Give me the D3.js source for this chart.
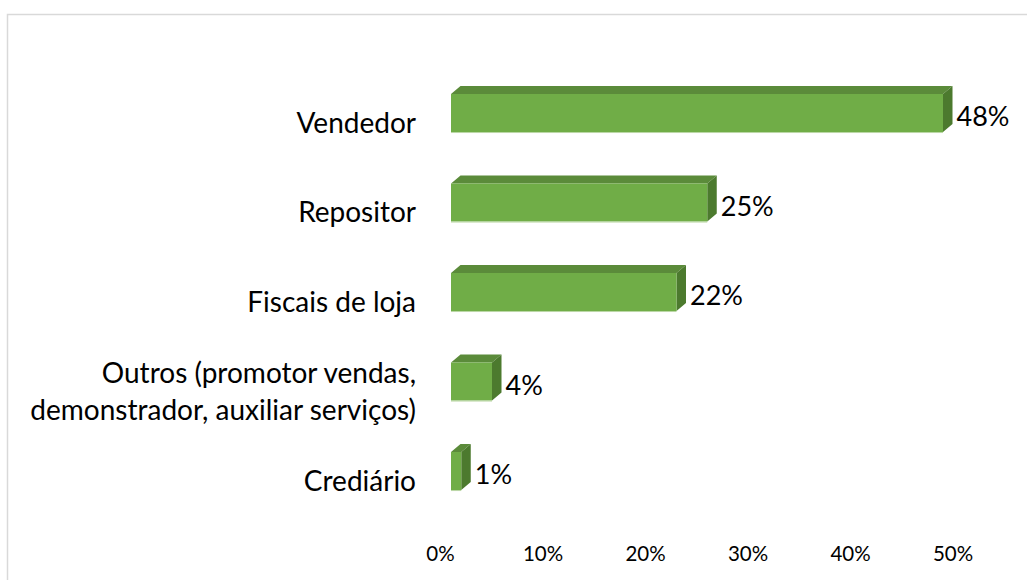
<!DOCTYPE html>
<html><head><meta charset="utf-8">
<script src="https://cdn.jsdelivr.net/npm/d3@7"></script>
<style>body{margin:0;background:#fff}svg{display:block}text{font-family:Lato,"Open Sans",sans-serif;fill:#000}</style>
</head><body><svg id="c" width="1027" height="580"></svg>
<script>
const categories = ["Vendedor","Repositor","Fiscais de loja","Outros (promotor vendas,\ndemonstrador, auxiliar serviços)","Crediário"];
const values = [0.48,0.25,0.22,0.04,0.01];
const valueLabels = ["48%","25%","22%","4%","1%"];
const ticks = [0,0.1,0.2,0.3,0.4,0.5];

const svg = d3.select("#c");
svg.append("rect").attr("x",7.5).attr("y",14.5).attr("width",1200).attr("height",800)
  .attr("fill","none").attr("stroke","#d9d9d9").attr("stroke-width",1.5);

const x = d3.scaleLinear().domain([0,0.5]).range([451,963.5]);
const y = d3.scaleBand().domain(categories).range([49.25,534.8]).paddingInner(0.575).paddingOuter(0.5);
const dx=9.5, dy=8;
const axisOffX=-11;

const ax = d3.axisBottom(x).tickValues(ticks).tickFormat(d3.format(".0%")).tickSize(0).tickPadding(0);
const g = svg.append("g").attr("transform","translate("+axisOffX+",546)").call(ax);
g.select(".domain").remove();
g.selectAll("text").attr("font-size",20.5).style("font-family","Lato, sans-serif").attr("fill","#000").attr("dy","0.71em");

const bars = svg.append("g");
categories.forEach((c,i)=>{
  const x0=x(0), x1=x(values[i]), y0=y(c), y1=y0+y.bandwidth();
  const gg=bars.append("g");
  gg.append("path").attr("d",`M${x0},${y0}L${x0+dx},${y0-dy}L${x1+dx},${y0-dy}L${x1},${y0}Z`).attr("fill","#5b8b3a");
  gg.append("path").attr("d",`M${x1},${y0}L${x1+dx},${y0-dy}L${x1+dx},${y1-dy}L${x1},${y1}Z`).attr("fill","#4c7a2e");
  gg.append("rect").attr("x",x0).attr("y",y0).attr("width",x1-x0).attr("height",y1-y0).attr("fill","#70ad47");
  gg.append("line").attr("x1",x0).attr("x2",x1).attr("y1",y1+0.5).attr("y2",y1+0.5).attr("stroke","#b9d6a4").attr("stroke-width",1);
  svg.append("text").attr("x",x1+dx+4).attr("y",(y0+y1)/2+4).attr("dy","0.35em")
    .attr("font-size",27).text(valueLabels[i]);
  const lines=c.split("\n");
  const cy=(y0+y1)/2+10;
  const t=svg.append("text").attr("text-anchor","end").attr("font-size",28);
  lines.forEach((l,j)=>{
    t.append("tspan").attr("x",416).attr("y",cy+(j-(lines.length-1)/2)*37).attr("dy","0.35em").text(l);
  });
});
</script></body></html>
